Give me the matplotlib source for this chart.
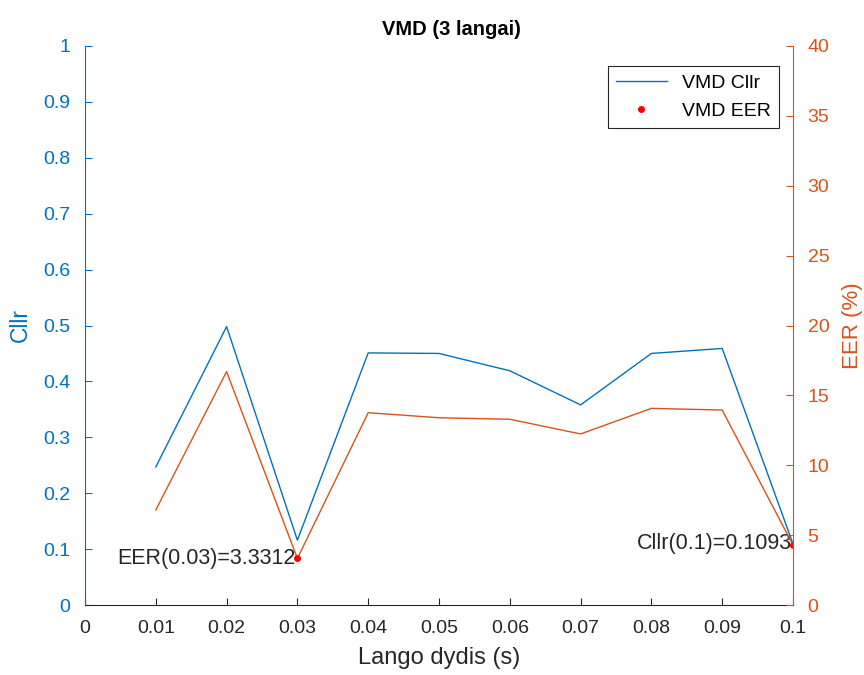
import matplotlib
matplotlib.use("Agg")
import matplotlib.pyplot as plt
from matplotlib.lines import Line2D

plt.rcParams['font.family'] = ['Liberation Sans', 'DejaVu Sans']

x = [0.01, 0.02, 0.03, 0.04, 0.05, 0.06, 0.07, 0.08, 0.09, 0.10]
cllr = [0.247, 0.498, 0.116, 0.451, 0.450, 0.419, 0.358, 0.450, 0.459, 0.1093]
eer = [6.8, 16.7, 3.3312, 13.76, 13.4, 13.29, 12.24, 14.07, 13.95, 4.29]

blue = '#0072BD'
orange = '#D95319'
gray = '#262626'

fig = plt.figure(figsize=(8.64, 6.75), dpi=100)
ax = fig.add_axes([85/864, 1-605/675, (793-85)/864, (605-46)/675])
ax2 = ax.twinx()

ax.plot(x, cllr, color=blue, lw=1.0, label='VMD Cllr')
ax2.plot(x, eer, color=orange, lw=1.0)
ax2.plot([x[2], x[9]], [eer[2], eer[9]], 'o', color='red', ms=4, label='VMD EER')

ax.set_xlim(0, 0.1)
ax.set_ylim(0, 1)
ax2.set_ylim(0, 40)
ax.set_xticks([i/100 for i in range(11)])
ax.set_xticklabels(['0'] + ['%.2f' % (i/100) for i in range(1, 10)] + ['0.1'])
ax.set_yticks([i/10 for i in range(11)])
ax.set_yticklabels(['0'] + ['%.1f' % (i/10) for i in range(1, 10)] + ['1'])
ax2.set_yticks(range(0, 41, 5))

for a in (ax, ax2):
    a.spines['top'].set_visible(False)
ax.spines['right'].set_visible(False)
ax2.spines['left'].set_visible(False)
ax2.spines['bottom'].set_visible(False)
ax.spines['left'].set_color(blue)
ax.spines['bottom'].set_color(gray)
ax2.spines['right'].set_color(orange)

ax.tick_params(axis='x', direction='in', colors=gray, labelsize=14, length=5, pad=11)
ax.tick_params(axis='y', direction='in', colors=blue, labelsize=14, length=5, pad=10.5)
ax2.tick_params(axis='y', direction='in', colors=orange, labelsize=14, length=5, pad=10.5)

ax.set_xlabel('Lango dydis (s)', fontsize=17, color=gray, labelpad=7)
ax.set_ylabel('Cllr', fontsize=16.5, color=blue, labelpad=8)
ax2.set_ylabel('EER (%)', fontsize=16, color=orange, labelpad=9)
ax.set_title('VMD (3 langai)', fontsize=14.5, fontweight='bold', pad=8, x=0.517)

ax2.text(x[2] - 0.0002, eer[2], 'EER(0.03)=3.3312', ha='right', va='center', fontsize=15.5, color=gray)
ax.text(x[9] - 0.0002, cllr[9], 'Cllr(0.1)=0.1093', ha='right', va='center', fontsize=15.5, color=gray)

handles = [Line2D([], [], color=blue, lw=1.0),
           Line2D([], [], marker='o', ls='', color='red', ms=4)]
leg = ax2.legend(handles, ['VMD Cllr', 'VMD EER'], loc='upper right',
                 bbox_to_anchor=(0.98, 0.964), borderaxespad=0, fontsize=14,
                 fancybox=False, edgecolor=gray, framealpha=1, handlelength=2.6,
                 borderpad=0.4, labelspacing=0.55)
leg.get_frame().set_linewidth(0.8)

fig.savefig('out.png', dpi=100)
